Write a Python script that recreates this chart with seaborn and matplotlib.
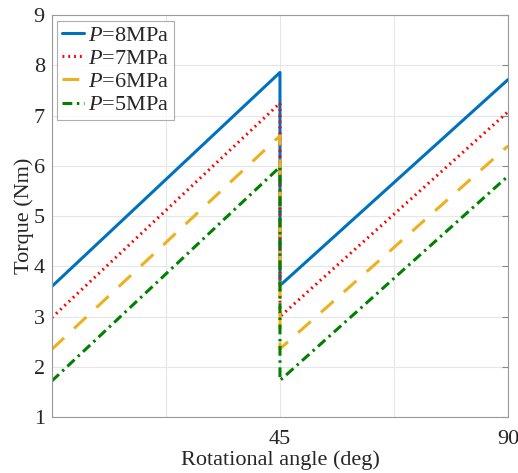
import matplotlib
matplotlib.use("Agg")
import matplotlib.pyplot as plt
import seaborn as sns

# rotational angle points (deg) - torque drops sharply at 45
angle = [0, 45, 45, 90]
t8 = [3.60, 7.86, 3.62, 7.72]
t7 = [2.98, 7.25, 3.00, 7.08]
t6 = [2.35, 6.60, 2.36, 6.40]
t5 = [1.72, 5.98, 1.73, 5.80]
labels = ["$P$=8MPa", "$P$=7MPa", "$P$=6MPa", "$P$=5MPa"]

sns.set_style("white")
plt.rcParams["font.family"] = ["Liberation Serif", "DejaVu Serif"]
plt.rcParams["mathtext.fontset"] = "custom"
plt.rcParams["mathtext.it"] = "Liberation Serif:italic"
plt.rcParams["mathtext.rm"] = "Liberation Serif"

fig = plt.figure(figsize=(5.18, 4.73), dpi=100)
ax = fig.add_axes([0.100, 0.118, 0.881, 0.850])

styles = [
    dict(color="#0072BD", linestyle="-"),
    dict(color="#FF0000", linestyle=(0, (0.6, 1.3))),
    dict(color="#EDB120", linestyle=(0, (5.5, 4.5))),
    dict(color="#008000", linestyle=(0, (3.2, 1.5, 0.8, 1.5))),
]
for vals, lab, st in zip([t8, t7, t6, t5], labels, styles):
    sns.lineplot(x=angle, y=vals, estimator=None, sort=False, ax=ax,
                 label=lab, linewidth=2.2, **st)

ax.set_xlim(0, 90)
ax.set_ylim(1, 9)
ax.set_xticks([0, 22.5, 45, 67.5, 90])
ax.set_xticklabels(["", "", "45", "", "90"])
ax.set_yticks(range(1, 10))
ax.grid(True, color="#e6e6e6", linewidth=0.8)
ax.tick_params(direction="in", length=4, color="#888888", labelsize=16,
               labelcolor="#262626", top=False, right=True)
ax.tick_params(axis="x", pad=9)
ax.tick_params(axis="y", pad=5)
for s in ax.spines.values():
    s.set_color("#999999")
    s.set_linewidth(0.8)

ax.set_xlabel("Rotational angle (deg)", fontsize=16, color="#262626", labelpad=1)
ax.set_ylabel("Torque (Nm)", fontsize=16, color="#262626", labelpad=0)

leg = ax.legend(loc="upper left", fontsize=16, frameon=True, fancybox=False,
                handlelength=1.0, handletextpad=0.2, borderpad=0.2,
                labelspacing=0.12, borderaxespad=0.25)
leg.get_frame().set_edgecolor("#999999")
leg.get_frame().set_linewidth(0.8)

fig.savefig("out.png", dpi=100)
